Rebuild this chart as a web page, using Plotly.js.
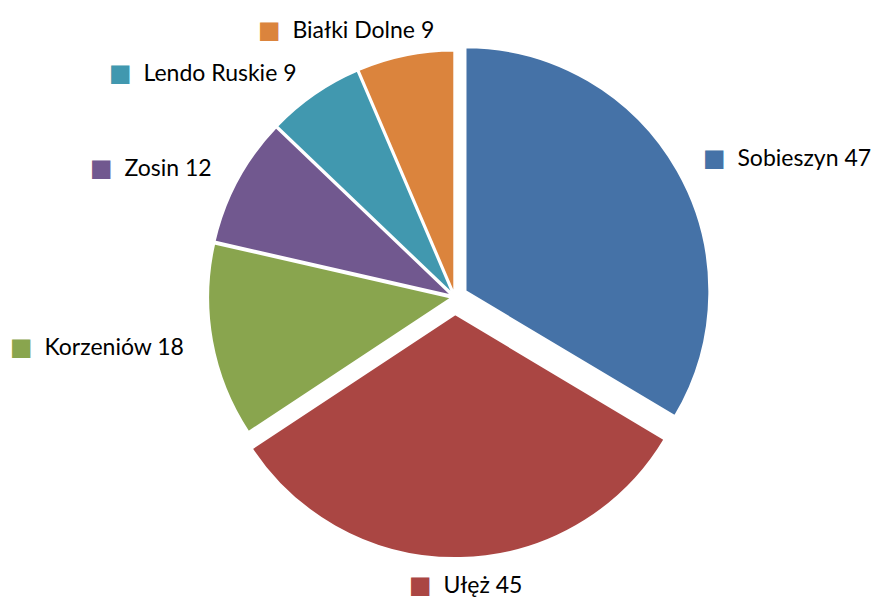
<!DOCTYPE html>
<html>
<head>
<meta charset="utf-8">
<script src="https://cdn.plot.ly/plotly-3.0.1.min.js"></script>
<style>html,body{margin:0;padding:0;background:#fff;}#chart{width:879px;height:604px;}</style>
</head>
<body>
<div id="chart"></div>
<script>
var labels = ["Sobieszyn", "Ułęż", "Korzeniów", "Zosin", "Lendo Ruskie", "Białki Dolne"];
var values = [47, 45, 18, 12, 9, 9];
var colors = ["#4572A7", "#AA4643", "#89A54E", "#71588F", "#4198AF", "#DB843D"];
var pulls = [0.05, 0.07, 0.012, 0.012, 0.012, 0.012];

var W = 879, H = 604;
var domX = [0.035, 1.0], domY = [0.076, 0.94];
var labelRadius = 1.11; // label distance as a multiple of the pie radius

var pieTrace = {
  type: 'pie',
  labels: labels,
  values: values,
  textinfo: 'none',
  sort: false,
  direction: 'clockwise',
  rotation: 0,
  pull: pulls,
  marker: { colors: colors, line: { color: '#FFFFFF', width: 2 } },
  domain: { x: domX, y: domY },
  hoverinfo: 'label+value',
  showlegend: false
};

// Outside labels placed at each slice's mid-angle (derived from the values)
var total = values.reduce(function (a, b) { return a + b; }, 0);
var maxPull = Math.max.apply(null, pulls);
var cx = (domX[0] + domX[1]) / 2 * W;
var cy = (1 - (domY[0] + domY[1]) / 2) * H;
var r = (domY[1] - domY[0]) * H / (2 * (1 + maxPull));
var cum = 0;
var sides = [];
var annotations = labels.map(function (l, i) {
  var mid = (cum + values[i] / 2) / total * 2 * Math.PI;
  cum += values[i];
  var sx = Math.sin(mid), sy = -Math.cos(mid);
  sides.push(Math.max(-1, Math.min(1, 3 * sx)));
  var px = cx + sx * r * (pulls[i] + labelRadius);
  var py = cy + sy * r * (pulls[i] + labelRadius);
  return {
    xref: 'paper', yref: 'paper',
    x: px / W, y: 1 - py / H,
    xanchor: 'center', yanchor: 'middle',
    showarrow: false,
    text: '<span style="color:' + colors[i] + ';font-size:24px;font-family:DejaVu Sans">■</span>\u00a0\u00a0' + l + ' ' + values[i],
    font: { family: 'Lato, "Open Sans", sans-serif', size: 23, color: '#000000' }
  };
});

var layout = {
  width: W,
  height: H,
  margin: { l: 0, r: 0, t: 0, b: 0 },
  paper_bgcolor: '#FFFFFF',
  plot_bgcolor: '#FFFFFF',
  showlegend: false,
  annotations: annotations
};

var gd = document.getElementById('chart');
Plotly.newPlot(gd, [pieTrace], layout, { displayModeBar: false, staticPlot: true }).then(function () {
  // shift each label box outward from its anchor point by a fraction of its measured width
  var upd = {};
  gd._fullLayout.annotations.forEach(function (a, i) {
    var w = a._xsize || 0;
    upd['annotations[' + i + '].xshift'] = sides[i] * w / 2;
  });
  return Plotly.relayout(gd, upd);
});
</script>
</body>
</html>
